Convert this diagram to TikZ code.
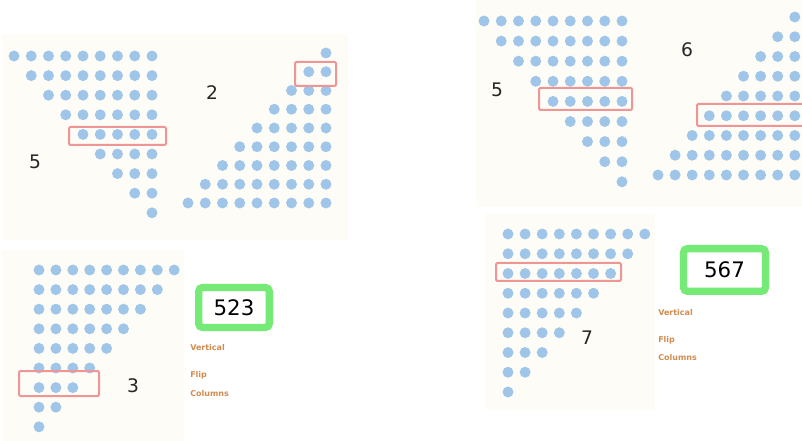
\documentclass[tikz,border=0pt]{standalone}
\usepackage{fontspec}
\setmainfont{DejaVu Sans}
\usepackage{tikz}
\definecolor{DotBlue}{RGB}{159,197,232}
\definecolor{RowRed}{RGB}{238,150,150}
\definecolor{SumGreen}{RGB}{118,234,118}
\definecolor{NoteOrange}{RGB}{210,140,80}
\definecolor{PanelCream}{RGB}{253,252,246}

\begin{document}
\begin{tikzpicture}[x=0.75pt, y=-0.75pt,
    dot/.style={fill=DotBlue},
    rowbox/.style={draw=RowRed, line width=1.5pt, rounded corners=1pt},
    count/.style={font=\fontsize{14}{16}\selectfont, text=black!85},
    sumbox/.style={draw=SumGreen, line width=5.5pt, rounded corners=3pt, fill=white,
      font=\fontsize{16}{18}\selectfont, inner sep=0pt},
    note/.style={anchor=west, inner sep=0pt, text=NoteOrange,
      font=\fontsize{6}{7}\selectfont\bfseries}]
  \useasboundingbox (0,0) rectangle (802,441);
  \fill[white] (0,0) rectangle (802,441);
  % faint panels
  \fill[PanelCream] (2,34) rectangle (348,240);
  \fill[PanelCream] (2,250) rectangle (184,441);
  \fill[PanelCream] (476,0) rectangle (802,207);
  \fill[PanelCream] (486,213) rectangle (655,410);

  % left half
  \foreach \i in {1,...,9}
    \foreach \j in {\i,...,9}
      \fill[dot] ({14+(\j-1)*17.25},{56+(\i-1)*19.6}) circle (4.1pt);
  \draw[rowbox] (69,127) rectangle (166,145);
  \node[count] (rowsA) at (35,162) {5};

  \foreach \i [evaluate=\i as \k using int(10-\i)] in {1,...,9}
    \foreach \j in {\k,...,9}
      \fill[dot] ({188+(\j-1)*17.25},{53+(\i-1)*18.75}) circle (4.1pt);
  \draw[rowbox] (295,62) rectangle (336,86);
  \node[count] (rowsB) at (212,93) {2};

  \foreach \i [evaluate=\i as \k using int(10-\i)] in {1,...,9}
    \foreach \j in {1,...,\k}
      \fill[dot] ({39+(\j-1)*16.9},{270+(\i-1)*19.6}) circle (4.1pt);
  \draw[rowbox] (19,371) rectangle (99,396);
  \node[count] (rowsC) at (133,386) {3};

  \node[sumbox, minimum width=53pt, minimum height=30pt] (sumL) at (234,307.5) {523};
  \node[note] (noteL1) at (190,348) {Vertical};
  \node[note] (noteL2) at (190,375) {Flip};
  \node[note] (noteL3) at (190,394) {Columns};

  % right half
  \foreach \i in {1,...,9}
    \foreach \j in {\i,...,9}
      \fill[dot] ({484+(\j-1)*17.25},{21+(\i-1)*20.1}) circle (4.1pt);
  \draw[rowbox] (539,88) rectangle (632,110);
  \node[count] (rowsD) at (497,90) {5};

  \foreach \i [evaluate=\i as \k using int(10-\i)] in {1,...,9}
    \foreach \j in {\k,...,9}
      \fill[dot] ({658+(\j-1)*17.1},{17+(\i-1)*19.75}) circle (4.1pt);
  \draw[rowbox] (697,104) rectangle (812,126);
  \node[count] (rowsE) at (687,50) {6};

  \foreach \i [evaluate=\i as \k using int(10-\i)] in {1,...,9}
    \foreach \j in {1,...,\k}
      \fill[dot] ({508+(\j-1)*17.1},{234+(\i-1)*19.75}) circle (4.1pt);
  \draw[rowbox] (496,263) rectangle (621,281);
  \node[count] (rowsF) at (587,338) {7};

  \node[sumbox, minimum width=61.5pt, minimum height=32pt] (sumR) at (724.5,270) {567};
  \node[note] (noteR1) at (658,313) {Vertical};
  \node[note] (noteR2) at (658,340) {Flip};
  \node[note] (noteR3) at (658,358) {Columns};
\end{tikzpicture}
\end{document}
